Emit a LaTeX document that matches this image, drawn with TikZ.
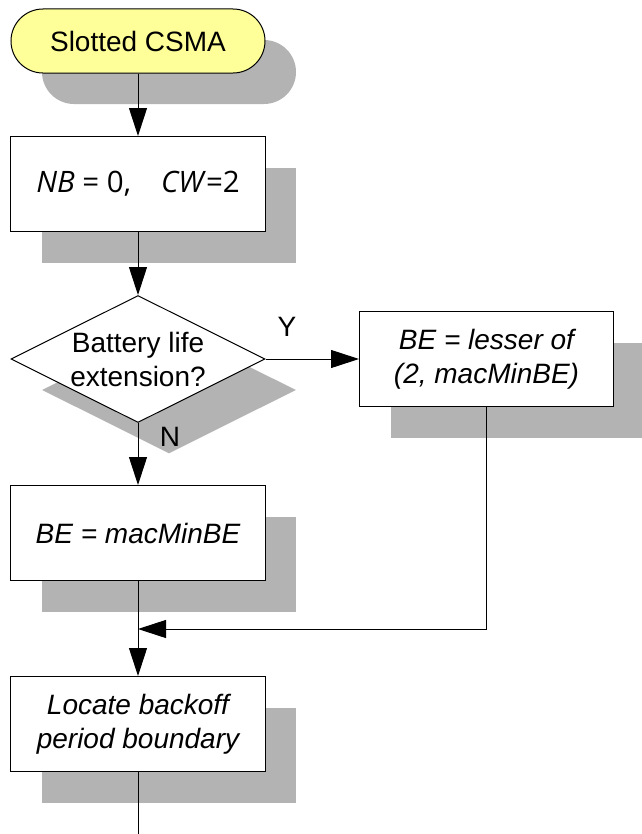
\documentclass[tikz,border=0pt]{standalone}
\usepackage{fontspec}
\setmainfont{Liberation Sans}
\newfontfamily\initfont{Open Sans}
\usetikzlibrary{arrows.meta,shapes.geometric,shadows}
\definecolor{shade}{RGB}{179,179,179}
\definecolor{termyellow}{RGB}{255,255,153}
\begin{document}
\begin{tikzpicture}[x=1bp,y=-1bp,
  txt/.style={inner sep=0pt, align=center, font=\fontsize{28bp}{34bp}\selectfont},
  base/.style={txt, draw=black, line width=1bp, fill=white,
    drop shadow={shadow xshift=31bp, shadow yshift=-31bp, fill=shade, opacity=1}},
  terminal/.style={base, rectangle, rounded corners=32bp, fill=termyellow,
    minimum width=254bp, minimum height=64bp},
  process/.style={base, rectangle, minimum width=254bp, minimum height=95bp},
  decision/.style={base, diamond, aspect=2, minimum width=254bp, minimum height=127bp},
  arr/.style={-{Triangle[length=28bp,width=18bp]}, line width=1bp},
  plain/.style={line width=1bp}]
\useasboundingbox (0,0) rectangle (642,834);

% blocks
\node[terminal] (start) at (138,41) {Slotted CSMA};
\node[process] (init) at (138,184)
  {\initfont\fontsize{29.5bp}{34bp}\selectfont\textit{NB} = 0,\hspace{30bp}\textit{CW}=2};
\node[decision] (ble) at (138,359) {};
\node[txt] (bletext) at (ble.center) {Battery life\\extension?};
\node[process] (lesser) at (486.5,359) {\itshape BE = lesser of\\\itshape (2, macMinBE)};
\node[process] (minbe) at (138,533) {\itshape BE = macMinBE};
\node[process] (locate) at (138,724) {\itshape Locate backoff\\\itshape period boundary};

% branch labels
\node[txt] (ylab) at (287,327) {Y};
\node[txt] (nlab) at (170,437) {N};

% junction and exit points
\coordinate (join) at (138,629);
\coordinate (exit) at (138,834);

% connectors
\draw[arr] (start) -- (init);
\draw[arr] (init) -- (ble);
\draw[arr] (ble.east) -- (lesser.west);
\draw[arr] (ble.south) -- (minbe.north);
\draw[arr] (lesser.south) |- (join);
\draw[arr] (minbe) -- (locate);
\draw[plain] (locate.south) -- (exit);
\end{tikzpicture}
\end{document}
